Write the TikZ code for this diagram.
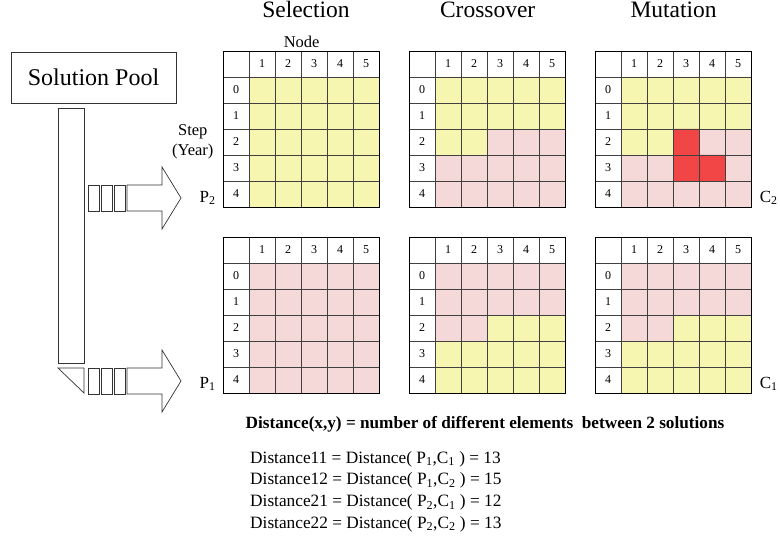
\documentclass[tikz,border=0pt]{standalone}
\usepackage{fontspec}
\setmainfont{Liberation Serif}
\usetikzlibrary{positioning}

\definecolor{parentA}{HTML}{F6F6B0}
\definecolor{parentB}{HTML}{F5D8D8}
\definecolor{mutated}{HTML}{F24545}

\tikzset{
  cellnum/.style={font=\fontsize{12}{14}\selectfont, inner sep=0pt},
  cellline/.style={draw=black!75, line width=0.7pt},
  gridframe/.style={draw=black, line width=1.3pt, inner sep=0pt,
    minimum width=156pt, minimum height=156pt, anchor=north west},
  stagetitle/.style={font=\fontsize{23.5}{26}\selectfont, anchor=base},
  sidetext/.style={font=\fontsize{16.5}{20}\selectfont, align=center},
  solname/.style={font=\fontsize{17}{19}\selectfont, yshift=-4pt},
  pooldraw/.style={draw=black!80, line width=0.7pt},
}

% lines, numbers and frame of one solution (inside a scope with x=26pt, y=-26pt)
\newcommand{\solgrid}[1]{
  \foreach \i in {1,...,5} {
    \draw[cellline] (\i,0) -- (\i,6);
    \draw[cellline] (0,\i) -- (6,\i);
    \node[cellnum] (#1-c\i) at (\i+0.5,0.5) {\i};
  }
  \foreach \r in {0,...,4}
    \node[cellnum] (#1-r\r) at (0.5,\r+1.5) {\r};
  \node[gridframe] (#1) at (0,0) {};
}

% block arrow out of the pool, centred on y = #1
\newcommand{\poolarrow}[1]{
  \foreach \x in {88,101,114}
    \draw[pooldraw] (\x,#1-13) rectangle ++(11,26);
  \draw[pooldraw] (127,#1-13) -- (162,#1-13) -- (162,#1-31) -- (181,#1)
    -- (162,#1+31) -- (162,#1+13) -- (127,#1+13) -- cycle;
}

\begin{document}
\begin{tikzpicture}[x=1pt, y=-1pt]
\useasboundingbox (0,0) rectangle (780,540);

% solution pool
\node[pooldraw, minimum width=165pt, minimum height=51pt,
  font=\fontsize{24}{27}\selectfont] (pool) at (93.5,77.5) {Solution Pool};
\draw[pooldraw] (58,108) rectangle (84,363);
\draw[pooldraw] (58,368) -- (84,368) -- (84,393) -- cycle;
\poolarrow{198}
\poolarrow{381}

% selection
\begin{scope}[shift={(223,51)}, x=26pt, y=-26pt]
  \fill[parentA] (1,1) rectangle (6,6);
  \solgrid{selP2}
\end{scope}
\begin{scope}[shift={(223,237)}, x=26pt, y=-26pt]
  \fill[parentB] (1,1) rectangle (6,6);
  \solgrid{selP1}
\end{scope}

% crossover
\begin{scope}[shift={(409,51)}, x=26pt, y=-26pt]
  \fill[parentB] (1,1) rectangle (6,6);
  \fill[parentA] (1,1) rectangle (6,3) (1,3) rectangle (3,4);
  \solgrid{crossA}
\end{scope}
\begin{scope}[shift={(409,237)}, x=26pt, y=-26pt]
  \fill[parentA] (1,1) rectangle (6,6);
  \fill[parentB] (1,1) rectangle (6,3) (1,3) rectangle (3,4);
  \solgrid{crossB}
\end{scope}

% mutation
\begin{scope}[shift={(595,51)}, x=26pt, y=-26pt]
  \fill[parentB] (1,1) rectangle (6,6);
  \fill[parentA] (1,1) rectangle (6,3) (1,3) rectangle (3,4);
  \fill[mutated] (3,3) rectangle (4,5) (4,4) rectangle (5,5);
  \solgrid{mutC2}
\end{scope}
\begin{scope}[shift={(595,237)}, x=26pt, y=-26pt]
  \fill[parentA] (1,1) rectangle (6,6);
  \fill[parentB] (1,1) rectangle (6,3) (1,3) rectangle (3,4);
  \solgrid{mutC1}
\end{scope}

% titles and labels
\node[stagetitle] (seltitle) at (306,18) {Selection};
\node[stagetitle] (crosstitle) at (crossA.north |- seltitle.base) {Crossover};
\node[stagetitle] (muttitle) at (mutC2.north |- seltitle.base) {Mutation};
\node[sidetext, above=0pt of selP2.north] (nodelabel) {Node};

\coordinate (stepref) at (selP2.west |- selP2-r2);
\node[sidetext, left=6pt of stepref] (steplabel) {Step\\(Year)};

\coordinate (p2ref) at (selP2.west |- selP2-r4);
\coordinate (p1ref) at (selP1.west |- selP1-r4);
\coordinate (c2ref) at (mutC2.east |- mutC2-r4);
\coordinate (c1ref) at (mutC1.east |- mutC1-r4);
\node[solname, left=4pt of p2ref] (p2) {P\textsubscript{2}};
\node[solname, left=4pt of p1ref] (p1) {P\textsubscript{1}};
\node[solname, right=4pt of c2ref] (c2) {C\textsubscript{2}};
\node[solname, right=4pt of c1ref] (c1) {C\textsubscript{1}};

% distances
\node[font=\bfseries\fontsize{17.2}{19}\selectfont] (distdef) at (485,424)
  {Distance(x,y) = number of different elements\ \ between 2 solutions};
\node[anchor=north west, align=left, inner sep=0pt,
  font=\fontsize{17.3}{21.7}\selectfont] (distlist) at (250,451)
  {Distance11 = Distance( P\textsubscript{1},C\textsubscript{1} ) = 13\\
   Distance12 = Distance( P\textsubscript{1},C\textsubscript{2} ) = 15\\
   Distance21 = Distance( P\textsubscript{2},C\textsubscript{1} ) = 12\\
   Distance22 = Distance( P\textsubscript{2},C\textsubscript{2} ) = 13};

\end{tikzpicture}
\end{document}
